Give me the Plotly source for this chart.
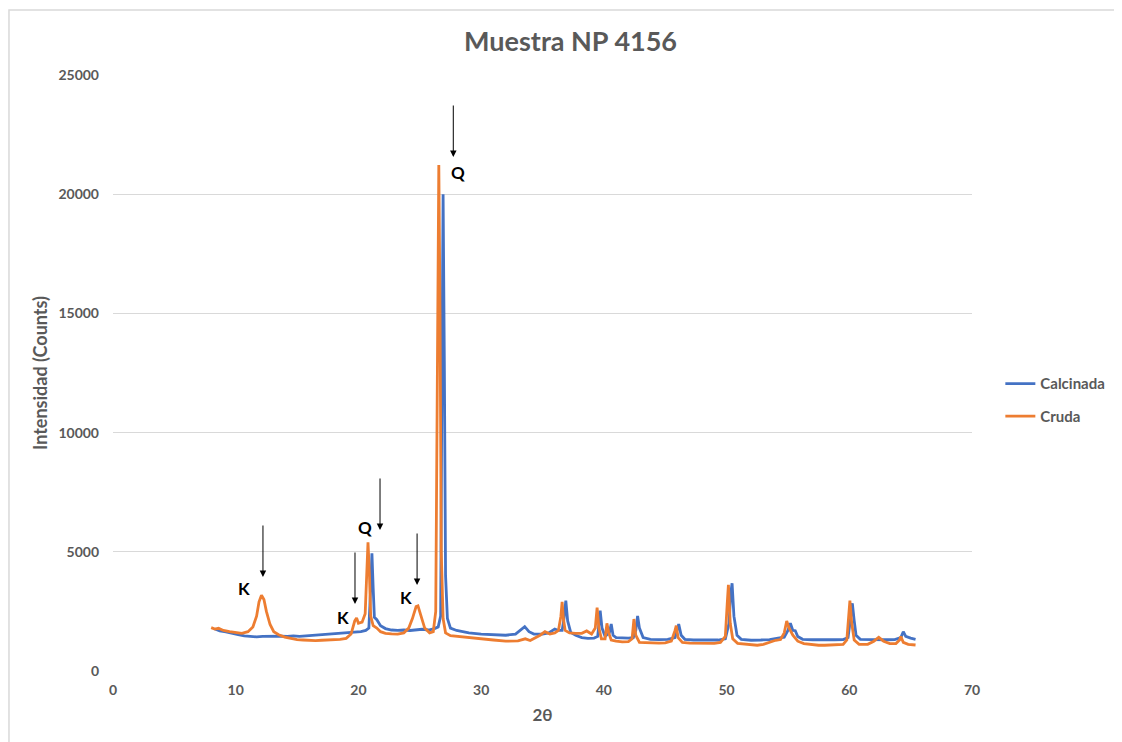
import plotly.graph_objects as go

# Calcinada (blue)
calc_x = [8.3, 8.7, 9.2, 9.7, 10.2, 10.7, 11.2, 11.7, 12.2, 12.7, 13.2, 13.7, 14.2, 14.7, 15.2, 15.7,
          16.2, 16.7, 17.2, 17.7, 18.2, 18.7, 19.2, 19.7, 20.2, 20.6, 20.85, 21.0, 21.1, 21.2, 21.3,
          21.5, 21.8, 22.2, 22.7, 23.2, 23.7, 24.2, 24.7, 25.2, 25.7, 26.2, 26.5, 26.7, 26.8, 26.9,
          27.0, 27.1, 27.25, 27.5, 28.0, 28.5, 29.0, 30.0, 31.0, 32.0, 32.8, 33.2, 33.55, 33.9, 34.3,
          35.0, 35.5, 36.0, 36.3, 36.6, 36.75, 36.9, 37.05, 37.3, 37.7, 38.2, 38.7, 39.2, 39.5, 39.7,
          39.85, 40.1, 40.45, 40.6, 40.75, 41.0, 41.5, 42.0, 42.4, 42.6, 42.75, 42.9, 43.2, 43.8, 44.5,
          45.2, 45.8, 46.0, 46.1, 46.3, 46.6, 47.3, 48.0, 48.7, 49.3, 49.9, 50.2, 50.35, 50.45, 50.6,
          50.85, 51.2, 52.0, 52.8, 53.5, 54.2, 54.7, 55.0, 55.2, 55.4, 55.6, 55.8, 56.2, 57.0, 58.0,
          58.8, 59.5, 59.9, 60.1, 60.25, 60.4, 60.55, 60.9, 61.5, 62.3, 63.0, 63.7, 64.2, 64.4, 64.6,
          65.0, 65.4]
calc_y = [1760, 1680, 1640, 1600, 1530, 1470, 1440, 1430, 1450, 1460, 1440, 1460, 1450, 1470, 1450, 1470,
          1480, 1500, 1510, 1550, 1560, 1590, 1600, 1640, 1650, 1700, 1800, 3500, 4940, 3500, 2250,
          2150, 1900, 1780, 1720, 1700, 1720, 1700, 1720, 1750, 1720, 1780, 1850, 2300, 12000, 20000,
          13000, 4000, 2200, 1800, 1700, 1650, 1600, 1550, 1530, 1500, 1550, 1700, 1860, 1650, 1550,
          1550, 1600, 1760, 1700, 1700, 2200, 2950, 2100, 1620, 1500, 1400, 1370, 1380, 1450, 2530,
          1800, 1450, 1600, 1970, 1500, 1400, 1380, 1380, 1400, 1700, 2310, 1800, 1400, 1330, 1320,
          1330, 1400, 1800, 1970, 1500, 1330, 1300, 1310, 1290, 1300, 1350, 2000, 3300, 3680, 2300,
          1500, 1330, 1290, 1300, 1320, 1380, 1420, 1700, 2000, 1700, 1690, 1450, 1330, 1310, 1300,
          1310, 1320, 1400, 2200, 2840, 2110, 1500, 1330, 1320, 1330, 1310, 1320, 1400, 1650, 1450,
          1380, 1330]

# Cruda (orange)
cruda_x = [8.0, 8.3, 8.6, 9.0, 9.5, 10.0, 10.5, 11.0, 11.4, 11.7, 11.9, 12.1, 12.3, 12.5, 12.8, 13.1,
           13.5, 14.0, 14.5, 15.0, 15.5, 16.0, 16.5, 17.0, 17.5, 18.0, 18.5, 19.0, 19.4, 19.7, 19.85,
           20.0, 20.3, 20.55, 20.7, 20.78, 20.9, 21.0, 21.2, 21.5, 21.8, 22.2, 22.7, 23.2, 23.7, 24.1,
           24.4, 24.7, 24.85, 25.1, 25.4, 25.8, 26.1, 26.3, 26.45, 26.55, 26.65, 26.75, 26.9, 27.1,
           27.5, 28.0, 29.0, 30.0, 31.0, 32.0, 33.0, 33.6, 34.0, 34.8, 35.2, 35.6, 36.0, 36.3, 36.5,
           36.6, 36.7, 36.85, 37.2, 37.7, 38.2, 38.6, 39.0, 39.3, 39.45, 39.6, 39.8, 40.1, 40.25, 40.4,
           40.6, 41.0, 41.5, 42.0, 42.3, 42.45, 42.6, 42.9, 43.5, 44.0, 44.5, 45.0, 45.5, 45.8, 45.9,
           46.05, 46.4, 47.0, 47.5, 48.0, 48.5, 49.0, 49.5, 49.9, 50.05, 50.15, 50.3, 50.5, 50.9, 51.5,
           52.0, 52.5, 53.0, 53.5, 54.0, 54.4, 54.7, 54.9, 55.1, 55.4, 55.8, 56.3, 57.0, 57.5, 58.0,
           58.5, 59.0, 59.5, 59.8, 59.95, 60.05, 60.2, 60.4, 60.8, 61.5, 62.0, 62.4, 62.8, 63.3, 63.8,
           64.1, 64.2, 64.4, 64.8, 65.4]
cruda_y = [1820, 1760, 1790, 1700, 1650, 1600, 1580, 1650, 1850, 2300, 2900, 3180, 3000, 2500, 1950, 1650,
           1520, 1420, 1360, 1320, 1300, 1280, 1270, 1290, 1300, 1310, 1330, 1370, 1550, 2100, 2220,
           2000, 2050, 2400, 4800, 5400, 4000, 2300, 1900, 1800, 1650, 1580, 1560, 1550, 1600, 1800,
           2200, 2700, 2730, 2300, 1800, 1600, 1650, 2500, 12000, 21220, 15000, 5000, 2200, 1600,
           1480, 1450, 1400, 1340, 1300, 1250, 1260, 1350, 1280, 1500, 1650, 1550, 1600, 1700, 2300,
           2900, 2200, 1700, 1600, 1580, 1580, 1680, 1550, 1800, 2660, 1800, 1350, 1350, 2000, 1600,
           1300, 1250, 1220, 1230, 1350, 2180, 1500, 1200, 1180, 1160, 1170, 1180, 1250, 1700, 1900,
           1400, 1200, 1170, 1160, 1170, 1150, 1160, 1200, 1450, 2800, 3610, 2000, 1350, 1160, 1120,
           1100, 1080, 1120, 1200, 1290, 1320, 1600, 2100, 1800, 1500, 1250, 1150, 1100, 1080, 1080,
           1100, 1100, 1120, 1300, 2400, 2950, 2000, 1300, 1120, 1120, 1250, 1410, 1250, 1150, 1150,
           1300, 1450, 1200, 1120, 1090]

# Annotations: (x, y, text)
labels = [(10.68, 3440, "K"), (18.74, 2265, "K"), (20.54, 6040, "Q"), (23.85, 3104, "K"), (28.09, 20930, "Q")]
arrows = [(12.22, 3943), (19.72, 2810), (21.76, 5915), (24.78, 3607), (27.73, 21560)]

FONT = "Lato"
GRAY = "#595959"

fig = go.Figure()
fig.add_trace(go.Scatter(x=calc_x, y=calc_y, mode="lines", name="<b>Calcinada</b>", legendgroup="a",
                         line=dict(color="#4472C4", width=2.8)))
fig.add_trace(go.Scatter(x=cruda_x, y=cruda_y, mode="lines", name="<b>Cruda</b>", legendgroup="b",
                         line=dict(color="#ED7D31", width=2.8)))

annos = []
for (x, y) in arrows:
    annos.append(dict(x=x, y=y, xref="x", yref="y", text="", showarrow=True,
                      arrowhead=2, arrowsize=1.3, arrowwidth=1, arrowcolor="black",
                      ax=0, ay=-53))
for (x, y, t) in labels:
    annos.append(dict(x=x, y=y, xref="x", yref="y", text="<b>%s</b>" % t, showarrow=False,
                      font=dict(family=FONT, size=17, color="black")))

fig.update_layout(
    width=1114, height=734,
    margin=dict(l=105, r=150, t=67, b=71),
    paper_bgcolor="white", plot_bgcolor="white",
    title=dict(text="<b>Muestra NP 4156</b>", x=0.505, xanchor="center", y=0.954, yanchor="middle",
               font=dict(family=FONT, size=27, color=GRAY)),
    font=dict(family=FONT, color=GRAY),
    xaxis=dict(range=[0, 70], dtick=10, showgrid=False, zeroline=False, showline=False,
               ticks="", tickfont=dict(family=FONT, size=14, color=GRAY), ticklabelstandoff=9,
               title=dict(text="<b>2θ</b>", font=dict(family=FONT, size=17, color=GRAY), standoff=12),
               tickprefix="<b>", ticksuffix="</b>", automargin=False),
    yaxis=dict(range=[0, 25000], dtick=5000, tickformat="d", showgrid=True, gridcolor="#d9d9d9", gridwidth=1,
               zeroline=False, showline=False, ticks="", ticklabelstandoff=13,
               tickfont=dict(family=FONT, size=14, color=GRAY),
               tickprefix="<b>", ticksuffix="</b>", automargin=False,
               title=dict(text="<b>Intensidad (Counts)</b>", font=dict(family=FONT, size=18, color=GRAY), standoff=6)),
    legend=dict(x=1.033, y=0.455, xanchor="left", yanchor="middle",
                font=dict(family=FONT, size=15, color=GRAY), tracegroupgap=10,
                bgcolor="rgba(0,0,0,0)"),
    annotations=annos,
    shapes=[dict(type="rect", xref="paper", yref="paper", x0=-0.1211, x1=1.2, y0=-0.2, y1=1.109,
                 line=dict(color="#d9d9d9", width=1.5), fillcolor="rgba(0,0,0,0)", layer="below")],
)

fig.write_html("out.html")
